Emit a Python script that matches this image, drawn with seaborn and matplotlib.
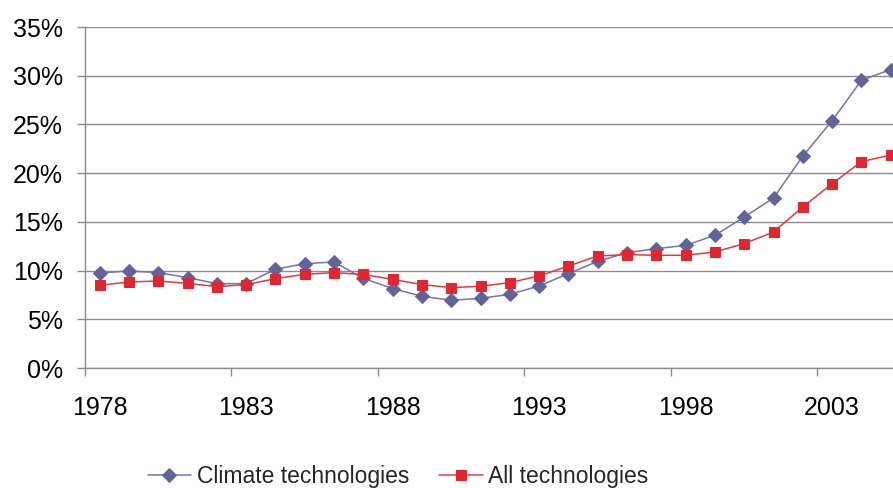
import numpy as np
import pandas as pd
import matplotlib
matplotlib.use("Agg")
import matplotlib.pyplot as plt
import seaborn as sns
from matplotlib.ticker import FuncFormatter, FixedLocator

years = list(range(1978, 2006))
climate = [9.75, 9.96, 9.79, 9.28, 8.66, 8.66, 10.13, 10.71, 10.88, 9.2,
           8.15, 7.36, 6.95, 7.15, 7.56, 8.42, 9.69, 10.95, 11.84, 12.25,
           12.59, 13.62, 15.5, 17.45, 21.76, 25.39, 29.53, 30.63]
all_tech = [8.49, 8.83, 8.93, 8.69, 8.35, 8.56, 9.17, 9.62, 9.79, 9.6,
            9.1, 8.56, 8.25, 8.39, 8.77, 9.45, 10.47, 11.5, 11.64, 11.57,
            11.57, 11.91, 12.77, 13.96, 16.53, 18.92, 21.18, 21.86]
series_names = ["Climate technologies", "All technologies"]
tick_years = [1978, 1983, 1988, 1993, 1998, 2003]
y_ticks = [0, 5, 10, 15, 20, 25, 30, 35]

sns.set_theme(style="white")
plt.rcParams["font.family"] = ["Liberation Sans", "DejaVu Sans"]

W, H = 893, 488
fig = plt.figure(figsize=(W / 100, H / 100), dpi=100)
step = 29.3
ax = fig.add_axes([85 / W, (H - 368) / H, 28 * step / W, 341 / H])

idx = np.arange(len(years))
df = pd.DataFrame({"idx": idx, "climate": climate, "all": all_tech})

sns.lineplot(data=df, x="idx", y="climate", ax=ax, color="#7474AE", lw=1.1,
             marker="D", markersize=7.2, markerfacecolor="#63639C",
             markeredgecolor="#63639C", label=series_names[0], zorder=3)
sns.lineplot(data=df, x="idx", y="all", ax=ax, color="#E8383D", lw=1.1,
             marker="s", markersize=6.8, markerfacecolor="#E0262F",
             markeredgecolor="#E0262F", label=series_names[1], zorder=4)

ax.set_xlim(-0.5, len(years) - 0.5)
ax.set_ylim(0, 35)
ax.set_yticks(y_ticks)
ax.yaxis.set_major_formatter(FuncFormatter(lambda v, p: f"{int(v)}%"))
ax.grid(axis="y", color="#8C8C8C", lw=1.0)
ax.set_axisbelow(True)

tick_idx = [years.index(y) for y in tick_years]
ax.set_xticks(tick_idx)
ax.set_xticklabels([str(y) for y in tick_years])
ax.xaxis.set_minor_locator(FixedLocator([i - 0.5 for i in tick_idx] + [tick_idx[-1] + 4.5]))
ax.tick_params(axis="x", which="major", length=0, pad=20.5, labelsize=18, colors="black")
ax.tick_params(axis="x", which="minor", length=6, width=1, color="#8C8C8C", direction="out", bottom=True)
ax.tick_params(axis="y", which="major", length=6, width=1, color="#8C8C8C", direction="out",
               pad=10, labelsize=18, left=True, labelcolor="black")
ax.set_xlabel("")
ax.set_ylabel("")
for s in ["top", "right"]:
    ax.spines[s].set_visible(False)
for s in ["left", "bottom"]:
    ax.spines[s].set_color("#8C8C8C")
    ax.spines[s].set_linewidth(1.0)

handles, labels = ax.get_legend_handles_labels()
ax.get_legend().remove()
leg_font = {"family": ["Liberation Sans", "DejaVu Sans"], "size": 16.5}
fig.legend(handles, labels, loc="center", bbox_to_anchor=(398 / W, 1 - 477 / H),
           ncol=2, frameon=False, prop=leg_font, handlelength=1.9,
           handletextpad=0.25, columnspacing=1.3)

fig.savefig("out.png", dpi=100)
